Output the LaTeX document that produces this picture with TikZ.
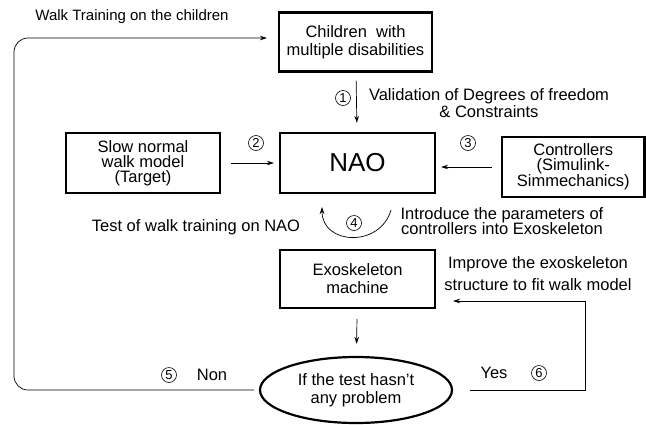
\documentclass[tikz,border=0pt]{standalone}
\usepackage{fontspec}
\setmainfont{Liberation Sans}
\usepackage{tikz}
\usetikzlibrary{calc}
\usetikzlibrary{arrows.meta}
\usetikzlibrary{shapes.geometric}

\tikzset{
  box/.style={draw,line width=2.2pt,align=center,inner sep=2pt,font=\fontsize{16.5}{15}\selectfont},
  num/.style={draw,circle,line width=0.6pt,inner sep=0pt,minimum size=15pt,font=\fontsize{13}{13}\selectfont},
  txt/.style={align=center,font=\fontsize{16.5}{15.5}\selectfont},
}

\begin{document}
\begin{tikzpicture}[x=1pt,y=-1pt,>={Stealth[length=7pt,width=4.5pt]},line width=0.7pt]
   \useasboundingbox (0,0) rectangle (646,424);
   % boxes
   \node[box,minimum width=153pt,minimum height=59pt] (children) at (355.5,42) {Children\ \ with\\[3pt]multiple disabilities};
   \node[box,minimum width=155pt,minimum height=60pt,font=\fontsize{26}{26}\selectfont] (nao) at (357.5,163) {NAO};
   \node[box,minimum width=154pt,minimum height=60pt] (slow) at (143,163) {Slow normal\\walk model\\(Target)};
   \node[box,minimum width=142.5pt,minimum height=60pt] (ctrl) at (573.25,167) {Controllers\\(Simulink-\\Simmechanics)};
   \node[box,minimum width=155pt,minimum height=58pt] (exo) at (357.5,279) {Exoskeleton\\[3pt]machine};
   \node[box,ellipse,minimum width=192pt,minimum height=66pt] (test) at (356,390) {If the test hasn't\\[3pt]any problem};

   % labels
   \node[txt,font=\fontsize{15}{15}\selectfont] (walktxt) at (132,17) {Walk Training on the children};
   \node[txt] (valtxt) at (489,103) {Validation of Degrees of freedom\\[2pt]\& Constraints};
   \node[txt] (testtxt) at (196,227) {Test of walk training on NAO};
   \node[txt] (introtxt) at (502,221) {Introduce the parameters of\\controllers into Exoskeleton};
   \node[txt,font=\fontsize{16.5}{22}\selectfont] (imptxt) at (538,274) {Improve the exoskeleton\\structure to fit walk model};
   \node[txt] (yestxt) at (494,373) {Yes};
   \node[txt] (nontxt) at (212,375) {Non};
   \node[num] (n1) at (343,98) {1};
   \node[num] (n2) at (256,143) {2};
   \node[num] (n3) at (468,143) {3};
   \node[num] (n4) at (354,223) {4};
   \node[num] (n5) at (169,375) {5};
   \node[num] (n6) at (539,373) {6};

   % connectors
   \draw[->,shorten <=8pt,shorten >=9pt] (children) -- (nao);
   \draw[->,shorten <=10pt,shorten >=5pt] (slow) -- (nao);
   \draw[->,shorten <=9pt,shorten >=5pt] (ctrl.west) -- (nao.east |- ctrl.west);
   \draw[->,shorten <=10pt,shorten >=12pt] (exo) -- (test);
   \coordinate (c4a) at (391,210);
   \coordinate (c4b) at (322,207);
   \draw[->] (c4a) .. controls (380,248) and (322,245) .. (c4b);
   \draw[->,rounded corners=14pt] ([xshift=-5pt]test.west) -- (14,390) -- (14,38)
      -- ([xshift=-11pt,yshift=4pt]children.west);
   \coordinate (imp) at (453,301);
   \draw[->] ([xshift=17pt]test.east) -- (585,390) -- (585,301) -- (imp);

\end{tikzpicture}
\end{document}
